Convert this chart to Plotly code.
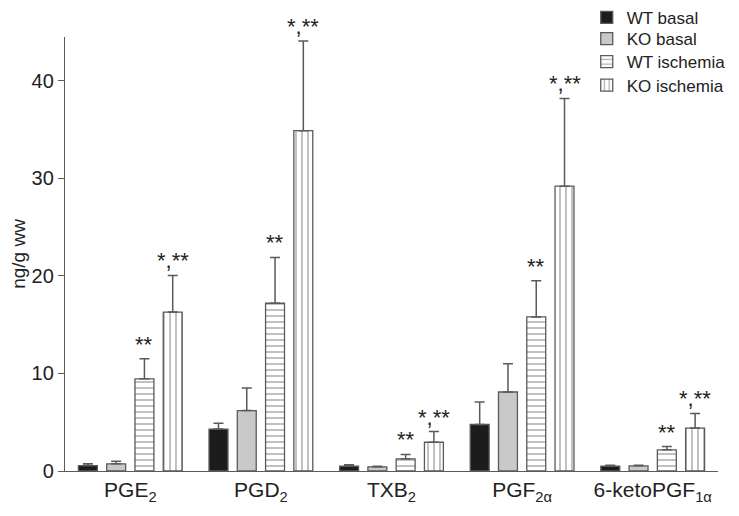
import plotly.graph_objects as go

categories = ["PGE<sub>2</sub>", "PGD<sub>2</sub>", "TXB<sub>2</sub>", "PGF<sub>2α</sub>", "6-ketoPGF<sub>1α</sub>"]
series_names = ["WT basal", "KO basal", "WT ischemia", "KO ischemia"]

wt_basal = [0.56, 4.3, 0.5, 4.77, 0.5]
wt_basal_err = [0.18, 0.6, 0.13, 2.3, 0.08]
ko_basal = [0.74, 6.2, 0.43, 8.1, 0.53]
ko_basal_err = [0.26, 2.3, 0.05, 2.9, 0.07]
wt_isch = [9.45, 17.2, 1.25, 15.8, 2.17]
wt_isch_err = [2.05, 4.7, 0.45, 3.7, 0.33]
ko_isch = [16.3, 34.9, 2.95, 29.2, 4.4]
ko_isch_err = [3.75, 9.2, 1.1, 9.0, 1.5]

wt_isch_sig = ["**", "**", "**", "**", "**"]
ko_isch_sig = ["*,**", "*,**", "*,**", "*,**", "*,**"]

edge = "#5a5a5a"
font_family = "Liberation Sans, Arial, sans-serif"

styles = [
    dict(color="#1c1c1c", pattern=None),
    dict(color="#c9c9c9", pattern=None),
    dict(color="white", pattern=dict(shape="-", fgcolor=edge, bgcolor="white", size=6, solidity=0.25)),
    dict(color="white", pattern=dict(shape="|", fgcolor=edge, bgcolor="white", size=6, solidity=0.25)),
]
values = [wt_basal, ko_basal, wt_isch, ko_isch]
errors = [wt_basal_err, ko_basal_err, wt_isch_err, ko_isch_err]
legend_ids = ["legend", "legend2", "legend3", "legend4"]
legend_rows_y = [1.044, 0.995, 0.942, 0.888]

fig = go.Figure()
for name, vals, errs, st, lid in zip(series_names, values, errors, styles, legend_ids):
    marker = dict(color=st["color"], line=dict(color=edge, width=1.3))
    if st["pattern"]:
        marker["pattern"] = st["pattern"]
    fig.add_trace(go.Bar(
        name=name, x=categories, y=vals, marker=marker, legend=lid,
        error_y=dict(type="data", array=errs, arrayminus=[0] * len(errs), symmetric=False,
                     color=edge, thickness=1.5, width=5),
    ))

bargap = 0.134
slot = (1 - bargap) / 4
annotations = []
for j, (vals, errs, sig) in enumerate([(wt_isch, wt_isch_err, wt_isch_sig), (ko_isch, ko_isch_err, ko_isch_sig)]):
    k = j + 2
    for i in range(len(categories)):
        annotations.append(dict(
            x=i + (k - 1.5) * slot, y=vals[i] + errs[i], xref="x", yref="y",
            text=sig[i], showarrow=False, yanchor="bottom", yshift=0,
            font=dict(size=22, color="#222", family=font_family),
        ))

legend_common = dict(x=0.799, xanchor="left", yanchor="middle",
                     font=dict(size=17, color="#222"), bgcolor="rgba(0,0,0,0)",
                     itemwidth=30)

fig.update_layout(
    width=723, height=500,
    margin=dict(l=57, r=13, t=29, b=37, autoexpand=False),
    paper_bgcolor="white", plot_bgcolor="white",
    barmode="group", bargap=bargap, bargroupgap=0.33,
    font=dict(family=font_family, size=19, color="#222"),
    showlegend=True,
    legend=dict(y=legend_rows_y[0], **legend_common),
    legend2=dict(y=legend_rows_y[1], **legend_common),
    legend3=dict(y=legend_rows_y[2], **legend_common),
    legend4=dict(y=legend_rows_y[3], **legend_common),
    annotations=annotations,
    xaxis=dict(showline=True, linecolor=edge, linewidth=1.3, ticks="",
               tickfont=dict(size=21, color="#222"), showgrid=False),
    yaxis=dict(range=[0, 44.5], showline=True, linecolor=edge, linewidth=1.3,
               ticks="outside", ticklen=6, tickcolor=edge, tickwidth=1.3,
               tickvals=[0, 10, 20, 30, 40], showgrid=False, zeroline=False,
               tickfont=dict(size=20, color="#222"),
               title=dict(text="ng/g ww", font=dict(size=19, color="#222"), standoff=10)),
)

fig.write_html("out.html")
